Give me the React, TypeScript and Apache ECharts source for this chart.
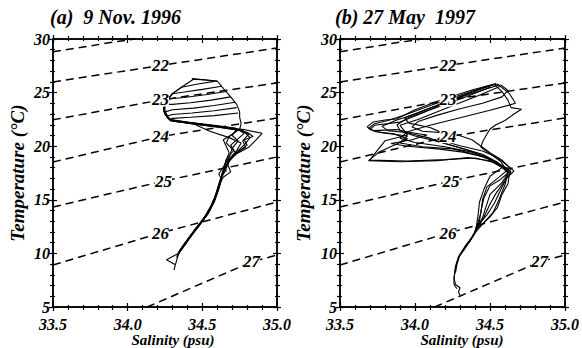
import React, { useEffect, useRef } from "react";
import * as echarts from "echarts";

// ---- axes ----
const salinityTicks = [33.5, 34.0, 34.5, 35.0];
const temperatureTicks = [5, 10, 15, 20, 25, 30];
const titles = ["(a)  9 Nov. 1996", "(b) 27 May  1997"];

// ---- isopycnals (sigma-t): [S, T] ----
const sigma21 = [[33.5, 28.8], [33.9, 29.7], [34.05, 30.0]];
const sigma22 = [[33.5, 25.99], [34.22, 27.53], [35.0, 29.16]];
const sigma23 = [[33.5, 22.46], [34.22, 24.31], [35.0, 25.9]];
const sigma24 = [[33.5, 18.53], [34.22, 20.89], [35.0, 22.63]];
const sigma25 = [[33.5, 14.33], [34.24, 16.75], [35.0, 18.99]];
const sigma26 = [[33.5, 8.92], [34.22, 11.9], [35.0, 14.79]];
const sigma27 = [[34.13, 5.0], [34.83, 9.2], [35.0, 9.85]];
const isopycnals = [sigma21, sigma22, sigma23, sigma24, sigma25, sigma26, sigma27];
// label of each isopycnal (null = unlabeled) and where it sits
const isoNames = [null, "22", "23", "24", "25", "26", "27"];
const isoLabelPos = [null, [34.22, 27.53], [34.22, 24.31], [34.22, 20.89], [34.24, 16.75], [34.22, 11.9], [34.83, 9.2]];

// ---- (a) 9 Nov 1996 profiles [S, T] ----
const profA1 = [[34.60,26.05],[34.52,26.18],[34.44,26.25],[34.36,25.5],[34.30,24.9],[34.27,24.4],[34.25,23.9],[34.24,23.4],[34.25,23.0],[34.27,22.6],[34.29,22.35],[34.42,22.15],[34.56,21.9],[34.68,21.7],[34.78,21.55],[34.90,21.2],[34.86,20.6],[34.81,19.9],[34.73,19.3],[34.68,18.6],[34.66,18.2],[34.64,17.5],[34.62,16.8],[34.60,15.8],[34.58,14.9],[34.54,13.7],[34.49,12.8],[34.42,11.5],[34.37,10.5],[34.34,10.0],[34.26,9.4],[34.32,8.95],[34.31,8.45]];
const profA2 = [[34.43,26.3],[34.60,26.08],[34.64,25.4],[34.69,24.6],[34.73,23.9],[34.75,23.2],[34.75,22.7],[34.76,22.1],[34.75,21.6],[34.81,21.1],[34.77,20.5],[34.79,19.9],[34.72,19.3],[34.68,18.7],[34.67,18.3],[34.69,17.6],[34.64,17.1],[34.61,16.4],[34.59,15.4],[34.56,14.4],[34.51,13.3],[34.45,12.2],[34.40,11.2],[34.36,10.4],[34.34,9.95],[34.32,8.95]];
const profA3 = [[34.58,26.05],[34.47,25.8],[34.36,25.5],[34.30,24.9],[34.27,24.4],[34.25,23.9],[34.25,23.3],[34.27,22.7],[34.30,22.4],[34.45,22.1],[34.60,21.85],[34.73,21.6],[34.70,21.0],[34.74,20.5],[34.70,19.8],[34.68,19.0],[34.65,18.3],[34.61,17.4],[34.63,16.9],[34.61,16.0],[34.585,15.0],[34.55,14.0],[34.50,13.0],[34.44,12.0],[34.39,11.0],[34.35,10.2],[34.33,9.6]];
const profA4 = [[34.63,25.6],[34.50,25.3],[34.38,25.05],[34.30,24.9],[34.27,24.4],[34.25,23.9],[34.24,23.4],[34.26,22.9],[34.28,22.5],[34.42,22.2],[34.58,21.9],[34.74,21.55],[34.68,20.9],[34.66,20.3],[34.71,19.6],[34.66,18.8],[34.65,18.2],[34.63,17.4],[34.62,16.6],[34.60,15.6],[34.57,14.7],[34.53,13.6],[34.48,12.6],[34.42,11.6],[34.37,10.7],[34.34,10.1],[34.33,9.7]];
const profA5 = [[34.66,25.1],[34.52,24.8],[34.38,24.55],[34.27,24.4],[34.25,23.9],[34.24,23.4],[34.25,23.0],[34.28,22.55],[34.30,22.4],[34.44,22.1],[34.55,21.4],[34.68,20.8],[34.76,20.3],[34.73,19.6],[34.69,18.9],[34.67,18.3],[34.65,17.6],[34.62,16.9],[34.60,16.0],[34.58,15.1],[34.55,14.2],[34.51,13.2],[34.46,12.4],[34.41,11.4],[34.37,10.6],[34.34,10.0]];
const profA6 = [[34.69,24.6],[34.56,24.3],[34.42,24.05],[34.30,23.9],[34.25,23.9],[34.24,23.4],[34.25,23.0],[34.27,22.6],[34.30,22.35],[34.45,22.05],[34.60,21.8],[34.77,21.45],[34.82,20.8],[34.78,20.1],[34.73,19.5],[34.69,18.9],[34.67,18.3],[34.64,17.7],[34.62,16.7],[34.60,15.7],[34.58,14.8],[34.53,13.6],[34.47,12.6],[34.41,11.5],[34.36,10.5],[34.34,10.0],[34.33,9.6]];
const profA7 = [[34.72,24.1],[34.58,23.8],[34.44,23.55],[34.30,23.4],[34.25,23.2],[34.26,22.8],[34.29,22.45],[34.42,22.2],[34.58,21.95],[34.72,21.7],[34.78,21.2],[34.74,20.7],[34.69,20.1],[34.72,19.4],[34.67,18.7],[34.66,18.2],[34.63,17.3],[34.62,16.5],[34.59,15.5],[34.56,14.5],[34.52,13.5],[34.47,12.5],[34.43,11.8],[34.38,10.9],[34.35,10.3]];
const profA8 = [[34.73,23.6],[34.58,23.3],[34.43,23.1],[34.30,22.95],[34.26,22.8],[34.28,22.5],[34.32,22.3],[34.48,22.0],[34.62,21.75],[34.74,21.5],[34.70,21.1],[34.64,20.6],[34.66,20.0],[34.68,19.4],[34.66,18.7],[34.65,18.2],[34.66,17.6]];
const profA9 = [[34.74,23.1],[34.58,22.85],[34.42,22.7],[34.30,22.6],[34.28,22.45],[34.40,22.2],[34.55,21.95],[34.70,21.7],[34.80,21.3],[34.84,20.9],[34.78,20.6],[34.80,20.1],[34.75,19.6],[34.70,19.0],[34.67,18.5]];
const profilesA = [profA1, profA2, profA3, profA4, profA5, profA6, profA7, profA8, profA9];

// ---- (b) 27 May 1997 profiles [S, T] ----
const profB1 = [[34.55,25.8],[34.45,25.45],[34.30,24.75],[34.12,23.9],[33.95,23.0],[33.82,22.4],[33.73,22.1],[33.69,21.65],[33.74,21.35],[33.86,21.15],[33.95,20.7],[33.90,20.3],[34.05,19.95],[34.25,19.75],[34.40,19.25],[34.50,18.75],[34.57,18.25],[34.61,17.7],[34.55,17.0],[34.48,16.2],[34.45,15.0],[34.44,13.8],[34.42,12.9],[34.40,12.0],[34.36,11.1],[34.32,10.3],[34.29,9.7],[34.27,8.8],[34.26,7.7],[34.27,7.1],[34.30,6.8],[34.29,6.4],[34.30,6.1]];
const profB2 = [[34.53,25.75],[34.58,25.1],[34.62,24.3],[34.64,23.6],[34.71,23.45],[34.66,23.0],[34.60,22.4],[34.54,22.0],[34.50,21.6],[34.47,20.9],[34.45,20.4],[34.44,19.9],[34.50,19.3],[34.57,18.6],[34.62,17.6],[34.60,16.4],[34.56,15.0],[34.52,13.8],[34.46,12.9],[34.41,12.1],[34.37,11.2],[34.33,10.4],[34.29,9.6],[34.27,8.6],[34.26,7.6],[34.26,7.1],[34.28,6.7]];
const profB3 = [[34.56,25.7],[34.40,25.0],[34.20,24.1],[34.02,23.1],[33.87,22.4],[33.78,21.85],[33.82,21.45],[33.95,21.25],[34.10,20.75],[34.20,20.25],[34.35,19.65],[34.48,18.95],[34.58,18.1],[34.64,17.9],[34.58,16.6],[34.50,15.5],[34.47,14.2],[34.45,13.3],[34.41,12.3],[34.38,11.5],[34.34,10.8],[34.30,9.9],[34.28,9.0],[34.27,8.2]];
const profB4 = [[34.50,25.5],[34.32,24.5],[34.12,23.5],[33.96,22.7],[33.88,22.0],[33.90,21.45],[34.00,20.95],[34.15,20.45],[34.30,19.85],[34.45,19.25],[34.55,18.5],[34.58,18.0],[34.50,17.2],[34.46,16.0],[34.43,14.8],[34.42,13.5],[34.41,12.6],[34.40,12.0],[34.36,11.0]];
const profB5 = [[34.57,25.6],[34.42,24.7],[34.22,23.6],[34.02,22.5],[33.90,21.95],[33.95,21.05],[33.80,20.5],[33.72,19.1],[33.70,18.7],[33.95,18.62],[34.20,18.75],[34.40,18.9],[34.52,18.5],[34.60,17.85],[34.63,17.5],[34.62,16.5],[34.58,15.5],[34.55,14.3],[34.50,13.4],[34.44,12.6],[34.40,12.0]];
const profB6 = [[34.55,25.8],[34.63,24.9],[34.67,24.0],[34.50,23.35],[34.30,22.65],[34.10,21.95],[33.95,21.35],[33.90,20.75],[34.00,20.35],[34.20,19.95],[34.38,19.45],[34.50,18.85],[34.58,18.2],[34.64,17.6],[34.60,16.8],[34.54,15.6],[34.50,14.6],[34.46,13.4],[34.42,12.4]];
const profB7 = [[34.48,25.6],[34.25,24.35],[34.05,23.1],[33.90,22.25],[33.73,21.95],[33.70,21.55],[33.78,21.25],[33.95,20.95],[33.90,20.35],[33.76,19.45],[33.69,18.65],[33.90,18.55],[34.15,18.65],[34.35,18.95],[34.50,18.65],[34.58,18.05],[34.62,17.5],[34.57,16.9],[34.50,16.3],[34.46,15.2],[34.44,14.0],[34.43,13.0],[34.41,12.3]];
const profB8 = [[34.52,25.7],[34.35,24.9],[34.25,24.35],[34.06,23.35],[33.93,22.65],[33.96,22.15],[34.10,21.75],[34.20,21.15],[34.15,20.65],[34.30,20.05],[34.45,19.55],[34.55,18.95],[34.62,18.15],[34.66,17.7],[34.61,17.0],[34.57,15.9],[34.53,14.7],[34.48,13.6],[34.43,12.8],[34.40,12.1]];
const profB9 = [[34.54,25.85],[34.38,25.25],[34.18,24.35],[34.00,23.4],[33.88,22.55],[33.80,22.45],[33.72,22.25],[33.68,21.8],[33.72,21.45],[33.88,21.55],[33.96,21.3],[34.08,21.05],[33.98,20.6],[33.84,20.25],[33.95,20.0],[34.15,19.75],[34.32,19.45],[34.46,19.0],[34.56,18.35],[34.61,17.85]];
const profB10 = [[34.57,25.75],[34.62,25.2],[34.58,24.6],[34.45,24.0],[34.30,23.5],[34.15,22.9],[34.02,22.3],[33.98,21.8],[34.05,21.4],[34.25,21.2],[34.38,20.6],[34.44,20.0],[34.50,19.4],[34.58,18.7],[34.63,18.0]];
const profilesB = [profB1, profB2, profB3, profB4, profB5, profB6, profB7, profB8, profB9, profB10];

const FONT = "Liberation Serif";
const BLACK = "#000";

function axisSet(kind: "x" | "y", gridIndex: number) {
  const base: any = kind === "x"
    ? { type: "value", min: 33.5, max: 35.0, interval: 0.5 }
    : { type: "value", min: 5, max: 30, interval: 5 };
  const sides = kind === "x" ? ["bottom", "top"] : ["left", "right"];
  const out: any[] = [];
  sides.forEach((pos, si) => {
    [false, true].forEach((inside) => {
      const main = si === 0 && !inside;
      out.push({
        ...base,
        gridIndex,
        position: pos,
        splitLine: { show: false },
        axisLine: { show: true, onZero: false, lineStyle: { color: BLACK, width: 1.5 } },
        axisTick: { show: true, inside, length: 4, lineStyle: { color: BLACK, width: 1.2 } },
        minorTick: { show: true, splitNumber: 5, length: inside ? 2 : 3, lineStyle: { color: BLACK, width: 1.2 } },
        axisLabel: main
          ? {
              show: true,
              margin: kind === "x" ? 9 : 3,
              color: BLACK,
              fontFamily: FONT,
              fontWeight: "bold",
              fontStyle: "italic",
              fontSize: 16,
              formatter: (v: number) => {
                const list = kind === "x" ? salinityTicks : temperatureTicks;
                const hit = list.find((t) => Math.abs(t - v) < 1e-6);
                if (hit === undefined) return "";
                return kind === "x" ? hit.toFixed(1) : String(hit);
              },
            }
          : { show: false },
      });
    });
  });
  return out;
}

export default function App() {
  const ref = useRef<HTMLDivElement>(null);
  useEffect(() => {
    if (!ref.current) return;
    const chart = echarts.init(ref.current, undefined, { renderer: "svg" });
    const grids = [
      { left: 53, top: 39, width: 224, height: 268 },
      { left: 340, top: 39, width: 227, height: 268 },
    ];
    const xAxis = [...axisSet("x", 0), ...axisSet("x", 1)];
    const yAxis = [...axisSet("y", 0), ...axisSet("y", 1)];
    const series: any[] = [];
    [0, 1].forEach((g) => {
      const ax = g * 4;
      isopycnals.forEach((line, i) => {
        const name = isoNames[i];
        const pos = isoLabelPos[i];
        series.push({
          type: "line",
          xAxisIndex: ax,
          yAxisIndex: ax,
          data: line,
          showSymbol: false,
          silent: true,
          z: 2,
          lineStyle: { color: BLACK, width: 1.5, type: [8, 5] },
          markPoint: name && pos
            ? {
                silent: true,
                symbol: "rect",
                symbolSize: [17, 13],
                itemStyle: { color: "#fff", opacity: 1 },
                label: {
                  show: true,
                  position: "inside",
                  formatter: name,
                  color: BLACK,
                  fontFamily: FONT,
                  fontWeight: "bold",
                  fontStyle: "italic",
                  fontSize: 17,
                  textBorderWidth: 0,
                },
                data: [{ coord: pos }],
              }
            : undefined,
        });
      });
      const profs = g === 0 ? profilesA : profilesB;
      profs.forEach((p) => {
        series.push({
          type: "line",
          xAxisIndex: ax,
          yAxisIndex: ax,
          data: p,
          showSymbol: false,
          silent: true,
          z: 4,
          lineStyle: { color: BLACK, width: 1.1 },
        });
      });
    });
    const txt = (x: number, y: number, text: string, size: number, extra: any = {}) => ({
      type: "text",
      x,
      y,
      rotation: extra.rotation || 0,
      style: {
        text,
        fill: BLACK,
        fontFamily: FONT,
        fontSize: size,
        fontWeight: "bold",
        fontStyle: "italic",
        textAlign: extra.align || "left",
        textVerticalAlign: "middle",
      },
    });
    chart.setOption({
      animation: false,
      backgroundColor: "#fff",
      grid: grids,
      xAxis,
      yAxis,
      series,
      graphic: [
        txt(50, 17, titles[0], 20),
        txt(335, 17, titles[1], 20),
        txt(173, 340, "Salinity (psu)", 15, { align: "center" }),
        txt(462, 340, "Salinity (psu)", 15, { align: "center" }),
        txt(17, 173, "Temperature (°C)", 19, { align: "center", rotation: Math.PI / 2 }),
        txt(303, 173, "Temperature (°C)", 19, { align: "center", rotation: Math.PI / 2 }),
      ],
    });
    return () => chart.dispose();
  }, []);
  return (
    <div
      ref={ref}
      style={{ position: "absolute", left: 0, top: 0, width: 582, height: 348, background: "#fff" }}
    />
  );
}
